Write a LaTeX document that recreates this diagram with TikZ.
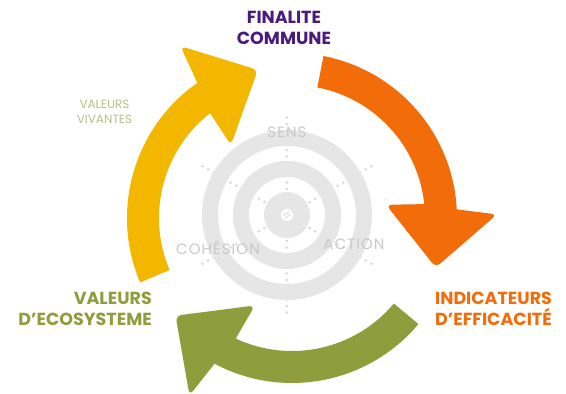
\documentclass[tikz,border=0pt]{standalone}
\usepackage{fontspec}
\setmainfont{Poppins}
\usepackage{tikz}

\definecolor{cycyellow}{HTML}{F3B700}
\definecolor{cycorange}{HTML}{F36C0A}
\definecolor{cycgreen}{HTML}{8F9E3C}
\definecolor{cycpurple}{HTML}{4A1A7D}
\definecolor{cycolive}{HTML}{B7BF87}
\definecolor{ringgray}{HTML}{E6E6E6}
\definecolor{dotgray}{HTML}{D9D9D9}
\definecolor{labelgray}{HTML}{C8C8C8}

% tail angle, end of shaft angle
\newcommand{\cyclearrow}[3]{%
  \fill[#1] (#2:165pt) arc[start angle=#2, end angle=#3, radius=165pt]
    [rounded corners=6pt] -- ({#3-2}:205pt) -- ({#3-22}:152pt) -- ({#3+5}:95pt)
    [sharp corners] -- ({#3+3}:133pt)
    arc[start angle=#3+3, end angle=#2, radius=133pt] -- cycle;}

\tikzset{
  ring/.style={draw=ringgray, line width=16pt},
  dotline/.style={dotgray, line width=3pt, line cap=round, dash pattern=on 0pt off 6.5pt},
  ringlabel/.style={text=labelgray, font=\fontsize{15}{17}\selectfont\addfontfeatures{LetterSpace=7}},
  mainlabel/.style={font=\fontsize{17.5}{21.5}\selectfont\bfseries, inner sep=0pt},
}

\begin{document}
\begin{tikzpicture}[x=1pt,y=1pt]
  \useasboundingbox (-292,-176) rectangle (274,218);

  \coordinate (ctr) at (-5,3);

  \foreach \a in {30,90,...,330}
    \draw[dotline] (ctr) -- ++(\a:103pt);

  \draw[ring] (ctr) circle[radius=77pt];
  \draw[ring] (ctr) circle[radius=46pt];
  \fill[ringgray] (ctr) circle[radius=23pt];
  \begin{scope}[shift={(-5,3)}, rotate=35]
    \fill[white] (0,0) circle[radius=6pt];
    \draw[ringgray, line width=1.6pt] (-3.5,1.5) -- (3.5,1.5) (-3.5,-1.5) -- (3.5,-1.5);
  \end{scope}

  \node[ringlabel] (sens) at (-5,85.5) {SENS};
  \node[ringlabel] (action) at (62,-26) {ACTION};
  \node[ringlabel] (cohesion) at (-74,-29.5) {COHÉSION};

  \cyclearrow{cycorange}{79}{3}
  \cyclearrow{cycyellow}{203}{125}
  \cyclearrow{cycgreen}{320}{242}

  \node[mainlabel, text=cycpurple, align=center] (finalite) at (-8,190) {FINALITE\\COMMUNE};
  \node[mainlabel, text=cycorange, align=left, anchor=west] (indic) at (143,-91) {INDICATEURS\\D’EFFICACITÉ};
  \node[mainlabel, text=cycgreen, align=right, anchor=east] (ecosys) at (-140,-91) {VALEURS\\D’ECOSYSTEME};
  \node[text=cycolive, align=center, inner sep=0pt, font=\fontsize{12}{15}\selectfont] (vivantes) at (-187.5,106.5) {VALEURS\\VIVANTES};
\end{tikzpicture}
\end{document}
